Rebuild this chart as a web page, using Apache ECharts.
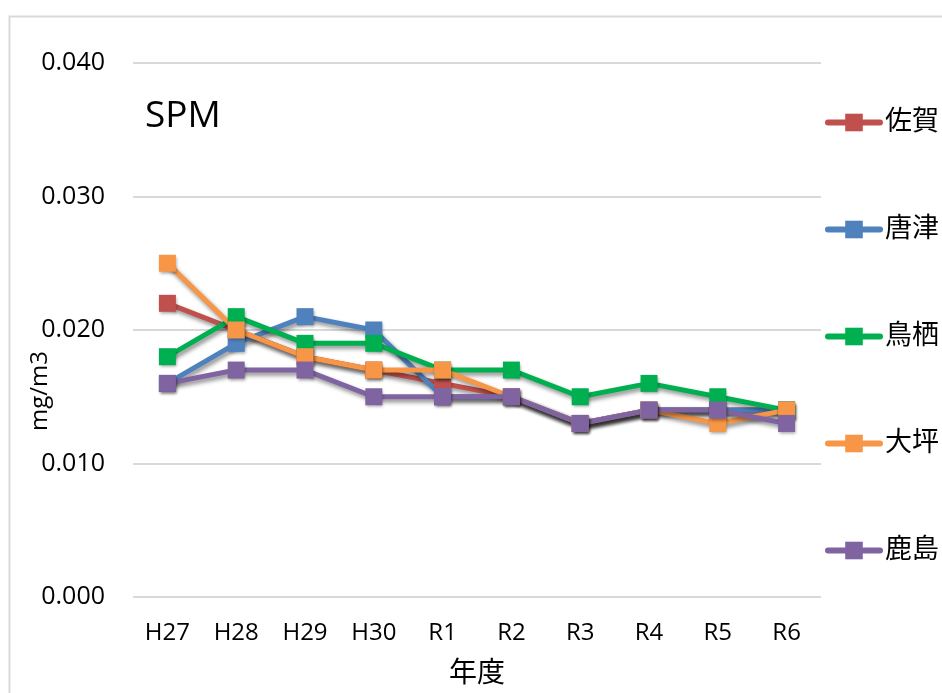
<!DOCTYPE html>
<html>
<head>
<meta charset="utf-8">
<script src="https://cdn.jsdelivr.net/npm/echarts@6/dist/echarts.min.js"></script>
<style>
  html, body { margin: 0; padding: 0; background: #fff; }
  #main { width: 942px; height: 693px; }
</style>
</head>
<body>
<div id="main"></div>
<script>
// 年度
const years = ['H27', 'H28', 'H29', 'H30', 'R1', 'R2', 'R3', 'R4', 'R5', 'R6']
// SPM 年平均値 (mg/m3)
const saga    = [0.022, 0.020, 0.018, 0.017, 0.016, 0.015, 0.013, 0.014, 0.014, 0.014]
const karatsu = [0.016, 0.019, 0.021, 0.020, 0.015, 0.015, 0.013, 0.014, 0.014, 0.014]
const tosu    = [0.018, 0.021, 0.019, 0.019, 0.017, 0.017, 0.015, 0.016, 0.015, 0.014]
const otsubo  = [0.025, 0.020, 0.018, 0.017, 0.017, 0.015, 0.013, 0.014, 0.013, 0.014]
const kashima = [0.016, 0.017, 0.017, 0.015, 0.015, 0.015, 0.013, 0.014, 0.014, 0.013]

const font = '"Open Sans", "Noto Sans CJK JP", sans-serif'
const chart = echarts.init(document.getElementById('main'))

// 系列の共通スタイル
function line(name, color, data) {
  return {
    name: name,
    type: 'line',
    data: data,
    symbol: 'rect',
    symbolSize: 17,
    color: color,
    lineStyle: {
      width: 5,
      color: color,
      shadowColor: 'rgba(0,0,0,0.45)',
      shadowBlur: 4,
      shadowOffsetX: 2,
      shadowOffsetY: 3
    },
    itemStyle: {
      color: color,
      shadowColor: 'rgba(0,0,0,0.35)',
      shadowBlur: 3,
      shadowOffsetX: 1,
      shadowOffsetY: 2
    },
    emphasis: { disabled: true }
  }
}

const option = {
  animation: false,
  textStyle: { fontFamily: font },
  graphic: [
    {
      type: 'rect',
      left: 7,
      top: 14,
      shape: { width: 1000, height: 1000 },
      style: { fill: 'none', stroke: '#d9d9d9', lineWidth: 2 },
      silent: true
    },
    {
      type: 'text',
      left: 145,
      top: 98,
      style: { text: 'SPM', fill: '#000', font: '37px ' + font }
    }
  ],
  grid: { left: 133, right: 121, top: 63, bottom: 96 },
  legend: {
    orient: 'vertical',
    left: 820,
    top: 104,
    itemWidth: 52,
    itemHeight: 22,
    itemGap: 80,
    lineStyle: { width: 6, cap: 'round' },
    textStyle: { fontSize: 27, lineHeight: 22, color: '#000', fontFamily: font },
    data: ['佐賀', '唐津', '鳥栖', '大坪', '鹿島']
  },
  xAxis: {
    type: 'category',
    data: years,
    name: '年度',
    nameLocation: 'middle',
    nameGap: 63,
    nameTextStyle: { fontSize: 28, color: '#000' },
    axisLine: { show: false },
    axisTick: { show: false },
    axisLabel: { fontSize: 24, color: '#000', margin: 24 }
  },
  yAxis: {
    type: 'value',
    min: 0,
    max: 0.04,
    interval: 0.01,
    name: 'mg/m3',
    nameLocation: 'middle',
    nameGap: 81,
    nameRotate: 90,
    nameMoveOverlap: false,
    nameTextStyle: { fontSize: 24, color: '#000', padding: [0, 122, 0, 0] },
    axisLine: { show: false },
    axisTick: { show: false },
    axisLabel: {
      fontSize: 25,
      color: '#000',
      margin: 28,
      formatter: function (v) { return v.toFixed(3) }
    },
    splitLine: { lineStyle: { color: '#d9d9d9', width: 2 } }
  },
  series: [
    line('佐賀', '#C0504D', saga),
    line('唐津', '#4F81BD', karatsu),
    line('鳥栖', '#00B050', tosu),
    line('大坪', '#F79646', otsubo),
    line('鹿島', '#8064A2', kashima)
  ]
}
chart.setOption(option)
</script>
</body>
</html>
